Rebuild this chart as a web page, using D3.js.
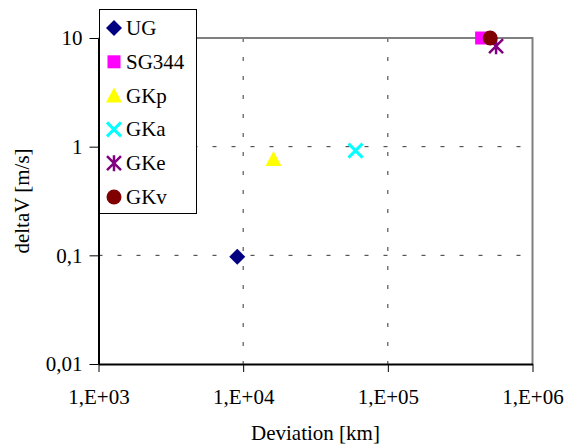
<!DOCTYPE html>
<html>
<head>
<meta charset="utf-8">
<script src="https://cdn.jsdelivr.net/npm/d3@7"></script>
<style>
  svg text { font-family: "Liberation Serif" !important; }
</style>
</head>
<body style="margin:0">
<script>
const width = 571;
const height = 446;
const fontSize = 21;

// series, one point each
const seriesNames = ["UG", "SG344", "GKp", "GKa", "GKe", "GKv"];
const deviation = [9100, 445000, 16200, 59800, 560000, 510000];   // km
const deltaV = [0.097, 10, 0.77, 0.92, 8.4, 10];                  // m/s
const seriesColors = ["#000080", "#ff00ff", "#ffff00", "#00ffff", "#800080", "#800000"];
const seriesShapes = ["diamond", "square", "triangle", "x", "star", "circle"];

const xTicks = [1e3, 1e4, 1e5, 1e6];
const xTickLabels = ["1,E+03", "1,E+04", "1,E+05", "1,E+06"];
const yTicks = [0.01, 0.1, 1, 10];
const yTickLabels = ["0,01", "0,1", "1", "10"];

const plotLeft = 98.5, plotRight = 532.5, plotTop = 38, plotBottom = 364;

const x = d3.scaleLog().domain([1e3, 1e6]).range([plotLeft, plotRight]);
const y = d3.scaleLog().domain([0.01, 10]).range([plotBottom, plotTop]);

const svg = d3.select("body").append("svg")
    .attr("width", width)
    .attr("height", height)
    .attr("font-family", "Liberation Serif");

function serif(sel) {
    return sel.attr("font-family", "Times New Roman")
        .style("font-family", "Liberation Serif")
        .attr("font-size", fontSize)
        .attr("fill", "#000");
}

// dashed gridlines (inner decades only)
svg.append("g").selectAll("line")
    .data(xTicks.slice(1, -1))
    .enter().append("line")
    .attr("x1", d => x(d)).attr("x2", d => x(d))
    .attr("y1", plotTop).attr("y2", plotBottom)
    .attr("stroke", "#333").attr("stroke-width", 1)
    .attr("stroke-dasharray", "4,15");

svg.append("g").selectAll("line")
    .data(yTicks.slice(1, -1))
    .enter().append("line")
    .attr("x1", plotLeft).attr("x2", plotRight)
    .attr("y1", d => y(d)).attr("y2", d => y(d))
    .attr("stroke", "#333").attr("stroke-width", 1)
    .attr("stroke-dasharray", "4,15");

// gray border top and right
svg.append("path")
    .attr("d", `M${plotLeft},${plotTop}H${plotRight}V${plotBottom}`)
    .attr("fill", "none")
    .attr("stroke", "#808080")
    .attr("stroke-width", 2);

// axes
const xAxis = d3.axisBottom(x)
    .tickValues(xTicks)
    .tickFormat((d, i) => xTickLabels[i])
    .tickSizeInner(8).tickSizeOuter(0);
const gx = svg.append("g")
    .attr("transform", `translate(0,${plotBottom})`)
    .call(xAxis)
    .attr("font-family", "Liberation Serif");
gx.select(".domain").attr("stroke", "#000").attr("stroke-width", 2);
gx.selectAll(".tick line").attr("stroke", "#000");
serif(gx.selectAll("text").attr("y", 40).attr("dy", 0));

const yAxis = d3.axisLeft(y)
    .tickValues(yTicks)
    .tickFormat((d, i) => yTickLabels[i])
    .tickSizeInner(9).tickSizeOuter(0);
const gy = svg.append("g")
    .attr("transform", `translate(${plotLeft},0)`)
    .call(yAxis)
    .attr("font-family", "Liberation Serif");
gy.select(".domain").attr("stroke", "#000").attr("stroke-width", 2);
gy.selectAll(".tick line").attr("stroke", "#000");
serif(gy.selectAll("text").attr("x", -16).attr("dy", "0.33em"));

// axis titles
serif(svg.append("text")
    .attr("x", (plotLeft + plotRight) / 2)
    .attr("y", 440)
    .attr("text-anchor", "middle"))
    .text("Deviation [km]");

serif(svg.append("text")
    .attr("transform", `translate(29,${(plotTop + plotBottom) / 2}) rotate(-90)`)
    .attr("text-anchor", "middle"))
    .text("deltaV [m/s]");

// marker drawing
function drawMarker(g, shape, color) {
    if (shape === "diamond") {
        g.append("path").attr("d", "M0,-8L8,0L0,8L-8,0Z").attr("fill", color);
    } else if (shape === "square") {
        g.append("rect").attr("x", -6.5).attr("y", -6.5).attr("width", 13).attr("height", 13).attr("fill", color);
    } else if (shape === "triangle") {
        g.append("path").attr("d", "M0,-8L8,7L-8,7Z").attr("fill", color);
    } else if (shape === "x") {
        g.append("path").attr("d", "M-7,-7L7,7M-7,7L7,-7")
            .attr("stroke", color).attr("stroke-width", 3).attr("fill", "none");
    } else if (shape === "star") {
        g.append("path").attr("d", "M-7,-7L7,7M-7,7L7,-7M0,-8V8")
            .attr("stroke", color).attr("stroke-width", 2.5).attr("fill", "none");
    } else if (shape === "circle") {
        g.append("circle").attr("r", 7.5).attr("fill", color);
    }
}

// data points
seriesNames.forEach((name, i) => {
    const g = svg.append("g")
        .attr("transform", `translate(${x(deviation[i])},${y(deltaV[i])})`);
    drawMarker(g, seriesShapes[i], seriesColors[i]);
});

// legend
const legend = svg.append("g");
legend.append("rect")
    .attr("x", 99.5).attr("y", 9.5)
    .attr("width", 97).attr("height", 204)
    .attr("fill", "#fff").attr("stroke", "#000").attr("stroke-width", 1);

seriesNames.forEach((name, i) => {
    const cy = 28 + i * 33.8;
    const g = legend.append("g").attr("transform", `translate(114,${cy})`);
    drawMarker(g, seriesShapes[i], seriesColors[i]);
    serif(legend.append("text")
        .attr("x", 126).attr("y", cy + 7))
        .text(name);
});
</script>
</body>
</html>
